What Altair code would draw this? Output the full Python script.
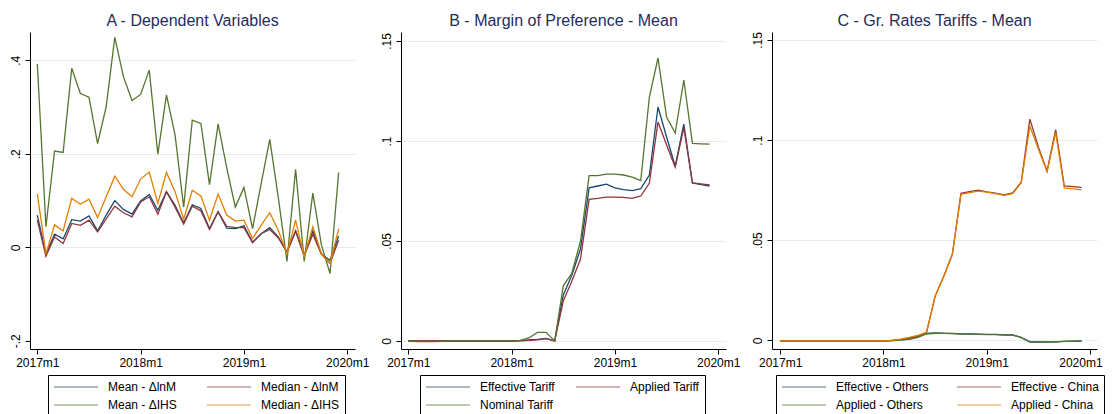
import altair as alt
import pandas as pd

FONT = "Liberation Sans"

months = list(range(36))

# Panel A - Dependent Variables
a_series = ["Mean - ΔlnM", "Median - ΔlnM", "Mean - ΔIHS", "Median - ΔIHS"]
a_mean_lnm = [0.069, -0.015, 0.028, 0.018, 0.059, 0.056, 0.067, 0.035, 0.069, 0.100, 0.081, 0.071,
              0.099, 0.113, 0.079, 0.119, 0.090, 0.052, 0.091, 0.083, 0.040, 0.076, 0.041, 0.040,
              0.046, 0.011, 0.029, 0.042, 0.022, -0.010, 0.035, -0.017, 0.035, -0.014, -0.028, 0.024]
a_median_lnm = [0.058, -0.019, 0.022, 0.008, 0.051, 0.047, 0.058, 0.033, 0.061, 0.088, 0.074, 0.065,
                0.097, 0.108, 0.071, 0.119, 0.086, 0.050, 0.088, 0.078, 0.038, 0.076, 0.045, 0.042,
                0.042, 0.010, 0.029, 0.038, 0.020, -0.011, 0.035, -0.019, 0.028, -0.015, -0.034, 0.015]
a_mean_ihs = [0.392, 0.044, 0.206, 0.203, 0.383, 0.329, 0.321, 0.222, 0.301, 0.449, 0.365, 0.314,
              0.327, 0.379, 0.199, 0.326, 0.240, 0.086, 0.272, 0.265, 0.134, 0.264, 0.170, 0.086,
              0.128, 0.040, 0.136, 0.231, 0.105, -0.030, 0.167, -0.030, 0.116, 0.005, -0.056, 0.160]
a_median_ihs = [0.114, -0.014, 0.048, 0.035, 0.105, 0.092, 0.103, 0.064, 0.108, 0.152, 0.124, 0.108,
                0.146, 0.161, 0.094, 0.160, 0.119, 0.060, 0.122, 0.110, 0.058, 0.114, 0.069, 0.056,
                0.058, 0.019, 0.047, 0.074, 0.036, -0.014, 0.058, -0.021, 0.044, -0.014, -0.035, 0.040]

# Panel B - Margin of Preference - Mean
b_series = ["Effective Tariff", "Applied Tariff", "Nominal Tariff"]
b_effective = [0, 0, 0, 0, 0, 0, 0, 0, 0, 0, 0, 0,
               0, 0.0002, 0.0005, 0.0008, 0.0013, 0.0, 0.023, 0.033, 0.046, 0.0766, 0.0775, 0.0784,
               0.0766, 0.0757, 0.0752, 0.0762, 0.0830, 0.117, 0.102, 0.0874, 0.1085, 0.0790, 0.0782, 0.0775]
b_applied = [0, 0, 0, 0, 0, 0, 0, 0, 0, 0, 0, 0,
             0, 0.0001, 0.0003, 0.0006, 0.0012, 0.0, 0.020, 0.030, 0.041, 0.0708, 0.0713, 0.0719,
             0.0719, 0.0718, 0.0713, 0.0725, 0.0790, 0.1095, 0.098, 0.0869, 0.1067, 0.0790, 0.0786, 0.0781]
b_nominal = [0, -0.0003, -0.0003, -0.0003, -0.0002, 0, 0, 0, 0, 0, 0, 0,
             0, 0.0003, 0.0015, 0.0043, 0.0043, 0.0, 0.0276, 0.034, 0.050, 0.0827, 0.0827, 0.0834,
             0.0834, 0.0830, 0.0819, 0.0802, 0.122, 0.1415, 0.112, 0.104, 0.1305, 0.0988, 0.0986, 0.0984]

# Panel C - Gr. Rates Tariffs - Mean
c_series = ["Effective - Others", "Effective - China", "Applied - Others", "Applied - China"]
c_eff_others = [-0.0003] * 13 + [0.0, 0.0003, 0.0008, 0.002, 0.0035, 0.0038, 0.0036, 0.0035, 0.0033,
                                 0.0032, 0.0031, 0.003, 0.003, 0.0028, 0.0027, 0.0015, -0.0008, -0.0008,
                                 -0.0009, -0.0007, -0.0005, -0.0004, -0.0003]
c_eff_china = [-0.0003] * 13 + [0.0, 0.0005, 0.0012, 0.0022, 0.0040, 0.022, 0.032, 0.043, 0.0734,
                                0.0743, 0.0750, 0.0742, 0.0735, 0.0727, 0.0737, 0.0790, 0.1105, 0.0965,
                                0.0846, 0.1052, 0.0772, 0.0768, 0.0764]
c_app_others = [-0.0003] * 13 + [-0.0002, 0.0001, 0.0005, 0.0015, 0.0032, 0.0035, 0.0035, 0.0034, 0.0032,
                                 0.0031, 0.0030, 0.0029, 0.0029, 0.0027, 0.0026, 0.0014, -0.0006, -0.0007,
                                 -0.0008, -0.0007, -0.0005, -0.0004, -0.0003]
c_app_china = [-0.0003] * 13 + [0.0, 0.0006, 0.0015, 0.0025, 0.0040, 0.0222, 0.032, 0.043, 0.0729,
                                0.0738, 0.0745, 0.0740, 0.0733, 0.0724, 0.0733, 0.0787, 0.107, 0.0955,
                                0.0842, 0.1037, 0.0762, 0.0757, 0.0752]

COLORS = ["#1a476f", "#90353b", "#55752f", "#e37e00"]

X_LABEL = "(2017 + datum.value / 12) + 'm1'"
Y_LABEL = ("datum.value == 0 ? '0' : (datum.value < 0 ? '-' : '') + "
           "substring(format(abs(datum.value), '.2~f'), 1)")


def long_df(names, arrays):
    rows = []
    for name, arr in zip(names, arrays):
        for m, v in zip(months, arr):
            rows.append({"month": m, "value": v, "series": name})
    return pd.DataFrame(rows)


def panel(names, arrays, title, ydomain, yticks, lx, ly, colpad, xdomain, flush):
    df = long_df(names, arrays)
    xaxis_kw = dict(values=[0, 12, 24, 36], labelExpr=X_LABEL, title=None, grid=False,
                    labelOverlap=False)
    if flush:
        xaxis_kw.update(labelFlush=7.5, labelFlushOffset=12)
    else:
        xaxis_kw.update(labelFlush=False)
    return alt.Chart(df, title=alt.TitleParams(
        title, fontSize=16, font=FONT, color="#1f2d5c", fontWeight="normal",
        anchor="middle", offset=3)).mark_line(strokeWidth=1.3, clip=True).encode(
        x=alt.X("month:Q",
                scale=alt.Scale(domain=xdomain, nice=False, zero=False),
                axis=alt.Axis(**xaxis_kw)),
        y=alt.Y("value:Q",
                scale=alt.Scale(domain=ydomain, nice=False, zero=False),
                axis=alt.Axis(values=yticks, labelExpr=Y_LABEL, title=None, grid=True,
                              gridColor="#e3ecef",
                              gridOpacity={"condition": {"test": "datum.value < -0.1", "value": 0},
                                           "value": 1},
                              labelAngle=270, labelAlign="center",
                              labelBaseline="bottom", labelFlush=False, labelOverlap=False)),
        color=alt.Color("series:N",
                        scale=alt.Scale(domain=names, range=COLORS[:len(names)]),
                        legend=alt.Legend(title=None, orient="none", legendX=lx, legendY=ly,
                                          columns=2, direction="horizontal",
                                          symbolType="stroke", symbolSize=1936,
                                          symbolStrokeWidth=1.2, symbolOpacity=0.75,
                                          labelFont=FONT, labelFontSize=12, labelColor="black",
                                          labelOffset=9, strokeColor="black", fillColor="white",
                                          padding=5, clipHeight=14, rowPadding=4,
                                          columnPadding=colpad, gridAlign="all")),
    ).properties(width=325, height=317)


pa = panel(a_series, [a_mean_lnm, a_median_lnm, a_mean_ihs, a_median_ihs],
           "A - Dependent Variables", [-0.2175, 0.4605], [-0.2, 0, 0.2, 0.4], 18, 343, 19,
           [-0.85, 36.9], False)
pb = panel(b_series, [b_effective, b_applied, b_nominal],
           "B - Margin of Preference - Mean", [-0.004, 0.1545], [0, 0.05, 0.1, 0.15], 19, 343, 20,
           [-0.85, 36.9], False)
pc = panel(c_series, [c_eff_others, c_eff_china, c_app_others, c_app_china],
           "C - Gr. Rates Tariffs - Mean", [-0.0043, 0.154], [0, 0.05, 0.1, 0.15], 4, 343, 27,
           [-0.95, 36.8], True)

chart = alt.hconcat(pa, pb, pc, spacing=46, bounds="flush").resolve_scale(
    color="independent", y="independent", x="independent"
).configure_view(stroke=None).configure_axis(
    domainColor="black", tickColor="black", labelColor="black", labelFont=FONT,
    labelFontSize=12, tickSize=5, labelPadding=3, domainWidth=1, tickWidth=1
).properties(padding={"left": 0, "top": 4, "right": 0, "bottom": 0}, background="white")

chart.save("out.html", embed_options={"renderer": "svg", "actions": False})
